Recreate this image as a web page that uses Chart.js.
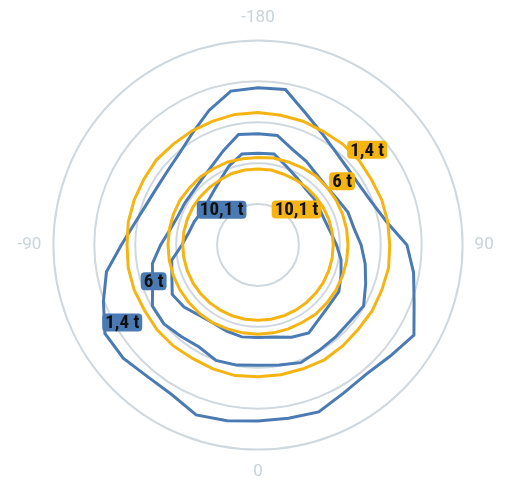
<!DOCTYPE html>
<html>
<head>
<meta charset="utf-8">
<script src="https://cdn.jsdelivr.net/npm/chart.js@4/dist/chart.umd.min.js"></script>
<style>
  html, body { margin: 0; padding: 0; background: #fff; }
  #wrap { width: 507px; height: 484px; }
</style>
</head>
<body>
<div id="wrap"><canvas id="myPolarChart"></canvas></div>
<script>
// slewing angle, clockwise from the top
var angles = [-180, 170, 160, 150, 140, 130, 120, 110, 100, 90, 80, 70, 60, 50, 40, 30, 20, 10,
              0, -10, -20, -30, -40, -50, -60, -70, -80, -90, -100, -110, -120, -130, -140, -150, -160, -170];
var shownAngles = [-180, 90, 0, -90];

// reach per angle
var blue14  = [19.2, 19.3, 17.1, 15.7, 14.8, 14.4, 14.4, 14.9, 16.0, 18.2, 19.3, 20.3, 22.0, 21.1, 20.6, 20.9, 21.7, 21.5,
               21.5, 21.8, 22.1, 21.1, 21.0, 21.5, 21.6, 20.1, 18.8, 16.7, 15.3, 14.5, 14.2, 14.3, 14.8, 15.9, 17.5, 19.1];
var blue6   = [13.6, 13.6, 12.4, 11.8, 11.2, 11.0, 11.2, 11.7, 11.9, 12.6, 13.3, 14.0, 14.9, 14.6, 14.7, 14.9, 15.3, 14.9,
               14.7, 14.9, 15.0, 14.4, 14.6, 15.0, 14.9, 13.7, 13.1, 11.9, 10.9, 10.4, 10.3, 10.3, 10.6, 11.2, 12.3, 13.7];
var blue101 = [11.2, 11.3, 10.2, 9.5, 9.0, 8.9, 8.7, 8.7, 9.0, 9.6, 10.3, 10.8, 11.4, 11.4, 11.7, 12.4, 12.0, 11.4,
               11.3, 11.4, 11.2, 11.0, 11.2, 11.8, 12.1, 11.2, 10.7, 9.3, 8.6, 8.3, 8.0, 8.1, 8.5, 9.2, 10.3, 11.3];
var orange14  = [16.2, 16.1, 16.1, 16.0, 16.1, 16.1, 16.0, 16.1, 16.1, 16.1, 16.2, 16.1, 16.1, 16.0, 16.1, 16.2, 16.1, 16.1,
                 16.1, 16.2, 16.1, 16.0, 16.1, 16.1, 16.0, 16.1, 16.1, 16.0, 16.1, 16.1, 16.1, 16.2, 16.1, 16.1, 16.1, 16.2];
var orange6   = [10.7, 10.8, 10.8, 10.9, 11.0, 11.0, 11.0, 11.0, 11.0, 11.0, 11.0, 11.0, 11.0, 11.0, 11.0, 10.9, 10.9, 10.9,
                 10.9, 10.9, 10.9, 11.0, 11.0, 11.0, 11.0, 11.0, 11.0, 11.0, 11.0, 11.0, 11.0, 10.9, 10.9, 10.8, 10.8, 10.7];
var orange101 = [9.3, 9.3, 9.2, 9.2, 9.2, 9.2, 9.2, 9.2, 9.2, 9.2, 9.2, 9.2, 9.2, 9.2, 9.2, 9.2, 9.2, 9.2,
                 9.2, 9.2, 9.2, 9.2, 9.2, 9.2, 9.2, 9.2, 9.2, 9.2, 9.2, 9.2, 9.2, 9.2, 9.2, 9.2, 9.3, 9.3];

// load labels: text, angle (deg, clockwise from top), reach
var labelTexts  = ['10,1 t', '6 t', '1,4 t', '10,1 t', '6 t', '1,4 t'];
var labelPhi    = [314.2, 250.8, 240.3, 47.3, 52.8, 48.9];
var labelReach  = [6.2, 13.5, 19.1, 6.4, 12.9, 17.7];

var BLUE = '#4a7ab4';
var ORANGE = '#f5b412';
var labelColors = [BLUE, BLUE, BLUE, ORANGE, ORANGE, ORANGE];

var loadLabels = {
    id: 'loadLabels',
    afterDatasetsDraw: function (chart) {
        var ctx = chart.ctx;
        var scale = chart.scales.r;
        var step = 360 / angles.length;
        ctx.save();
        ctx.font = 'bold 19px "Liberation Sans Narrow", "Arial Narrow", "Roboto Condensed", sans-serif';
        ctx.textAlign = 'center';
        ctx.textBaseline = 'middle';
        for (var i = 0; i < labelTexts.length; i++) {
            var p = scale.getPointPosition(labelPhi[i] / step, scale.getDistanceFromCenterForValue(labelReach[i]));
            var w = ctx.measureText(labelTexts[i]).width + 6;
            var h = 18;
            ctx.fillStyle = labelColors[i];
            ctx.beginPath();
            ctx.roundRect(p.x - w / 2, p.y - h / 2, w, h, 4);
            ctx.fill();
            ctx.fillStyle = '#111';
            ctx.fillText(labelTexts[i], p.x, p.y + 1);
        }
        ctx.restore();
    }
};

function ring(label, data, color) {
    return {
        label: label,
        data: data,
        borderColor: color,
        backgroundColor: 'rgba(0,0,0,0)',
        borderWidth: 3,
        pointRadius: 0,
        fill: false,
        tension: 0
    };
}

var chart = new Chart(document.getElementById('myPolarChart'), {
    type: 'radar',
    data: {
        labels: angles,
        datasets: [
            ring('10,1 t', orange101, ORANGE),
            ring('6 t', orange6, ORANGE),
            ring('1,4 t', orange14, ORANGE),
            ring('10,1 t', blue101, BLUE),
            ring('6 t', blue6, BLUE),
            ring('1,4 t', blue14, BLUE)
        ]
    },
    options: {
        responsive: true,
        maintainAspectRatio: false,
        animation: false,
        layout: { padding: { top: 8, bottom: 2, left: 6, right: 0 } },
        plugins: { legend: { display: false }, tooltip: { enabled: false } },
        scales: {
            r: {
                min: 0,
                max: 25,
                ticks: { stepSize: 5, display: false },
                angleLines: { display: false },
                grid: { circular: true, color: '#cfd8de', lineWidth: 2 },
                pointLabels: {
                    color: '#c9d3da',
                    padding: 12,
                    font: { size: 17, family: 'Roboto, "Liberation Sans", sans-serif' },
                    callback: function (v) { return shownAngles.indexOf(v) >= 0 ? String(v) : ''; }
                }
            }
        }
    },
    plugins: [loadLabels]
});
</script>
</body>
</html>
